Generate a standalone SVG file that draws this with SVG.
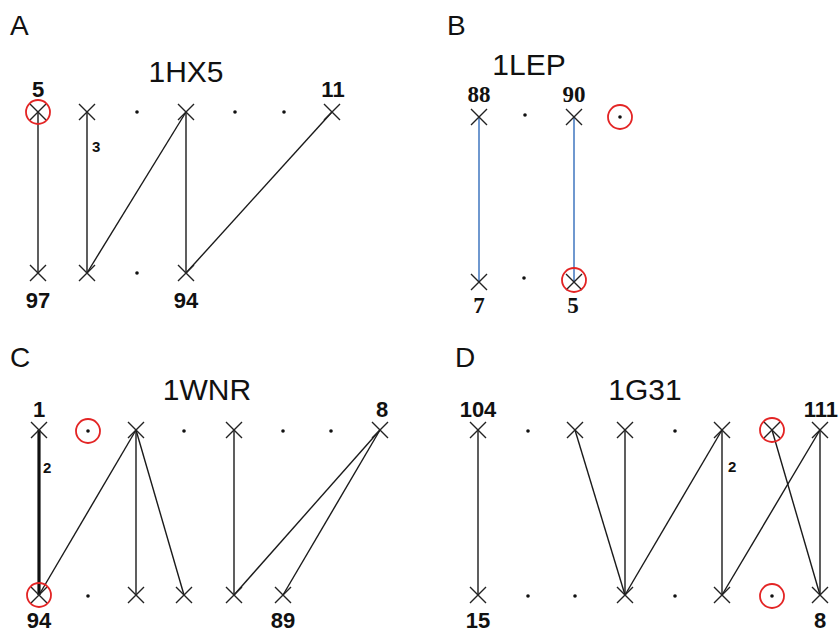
<svg xmlns="http://www.w3.org/2000/svg" xmlns:xlink="http://www.w3.org/1999/xlink" width="840" height="634" viewBox="0 0 840 634">
<style>
.bg{fill:#fff}
.panel{font-family:"Liberation Sans",Arial,sans-serif;font-size:28px;fill:#111}
.title{font-family:"Liberation Sans",Arial,sans-serif;font-size:30px;fill:#111;text-anchor:middle}
.num{font-family:"Liberation Sans",Arial,sans-serif;font-size:22px;font-weight:bold;fill:#111;text-anchor:middle}
.snum{font-family:"Liberation Serif","Times New Roman",serif;font-size:23px;font-weight:bold;fill:#111;text-anchor:middle}
.small{font-family:"Liberation Sans",Arial,sans-serif;font-size:15px;font-weight:bold;fill:#111}
.xm{stroke:#222;stroke-width:1.4;fill:none}
.dot{fill:#111}
.ring{fill:none;stroke:#e32424;stroke-width:1.8}
.ln{stroke:#1a1a1a;stroke-width:1.4;fill:none}
.thick{stroke:#111;stroke-width:3.2;fill:none}
.blue{stroke:#6f98cf;stroke-width:2;fill:none}
</style>
<defs>
<path id="x" class="xm" d="M-8,-8L8,8M8,-8L-8,8"/>
<circle id="d" class="dot" r="1.8"/>
<circle id="r" class="ring" r="12"/>
</defs>
<rect class="bg" width="840" height="634"/>

<!-- Panel A -->
<text class="panel" x="10" y="35">A</text>
<text class="title" x="186" y="82">1HX5</text>
<g id="connectors-A">
<line class="ln" x1="38" y1="112" x2="38" y2="273"/>
<line class="ln" x1="87" y1="112" x2="87" y2="273"/>
<line class="ln" x1="87" y1="273" x2="186" y2="112"/>
<line class="ln" x1="186" y1="112" x2="186" y2="273"/>
<line class="ln" x1="186" y1="273" x2="332" y2="112"/>
</g>
<g id="A-t1"><use href="#x" x="38" y="112"/><use href="#r" x="38" y="112"/><text class="num" x="38" y="97">5</text></g>
<g id="A-t2"><use href="#x" x="87" y="112"/></g>
<g id="A-t3"><use href="#d" x="137" y="112"/></g>
<g id="A-t4"><use href="#x" x="186" y="112"/></g>
<g id="A-t5"><use href="#d" x="235" y="112"/></g>
<g id="A-t6"><use href="#d" x="284" y="112"/></g>
<g id="A-t7"><use href="#x" x="332" y="112"/><text class="num" x="333" y="97">11</text></g>
<g id="A-b1"><use href="#x" x="38" y="273"/><text class="num" x="38" y="308">97</text></g>
<g id="A-b2"><use href="#x" x="87" y="273"/></g>
<g id="A-b3"><use href="#d" x="137" y="273"/></g>
<g id="A-b4"><use href="#x" x="186" y="273"/><text class="num" x="186" y="308">94</text></g>
<text class="small" x="92" y="152">3</text>

<!-- Panel B -->
<text class="panel" x="447" y="35">B</text>
<text class="title" x="529" y="75">1LEP</text>
<g id="connectors-B">
<line class="blue" x1="479" y1="117" x2="479" y2="282"/>
<line class="blue" x1="574" y1="117" x2="574" y2="282"/>
</g>
<g id="B-t1"><use href="#x" x="479" y="117"/><text class="snum" x="479" y="102">88</text></g>
<g id="B-t2"><use href="#d" x="525" y="115"/></g>
<g id="B-t3"><use href="#x" x="574" y="117"/><text class="snum" x="574" y="102">90</text></g>
<g id="B-t4"><use href="#d" x="620" y="117"/><use href="#r" x="620" y="117"/></g>
<g id="B-b1"><use href="#x" x="479" y="282"/><text class="snum" x="479" y="313">7</text></g>
<g id="B-b2"><use href="#d" x="524" y="278"/></g>
<g id="B-b3"><use href="#x" x="574" y="282"/><use href="#r" x="574" y="280"/><text class="snum" x="573" y="313">5</text></g>

<!-- Panel C -->
<text class="panel" x="10" y="367">C</text>
<text class="title" x="207" y="400">1WNR</text>
<g id="connectors-C">
<line class="thick" x1="39" y1="430" x2="39" y2="595"/>
<line class="ln" x1="39" y1="595" x2="136" y2="430"/>
<line class="ln" x1="136" y1="430" x2="136" y2="595"/>
<line class="ln" x1="136" y1="430" x2="184" y2="595"/>
<line class="ln" x1="234" y1="430" x2="234" y2="595"/>
<line class="ln" x1="234" y1="595" x2="380" y2="430"/>
<line class="ln" x1="283" y1="595" x2="380" y2="430"/>
</g>
<g id="C-t1"><use href="#x" x="39" y="430"/><text class="num" x="39" y="417">1</text></g>
<g id="C-t2"><use href="#d" x="88" y="431"/><use href="#r" x="88" y="431"/></g>
<g id="C-t3"><use href="#x" x="136" y="430"/></g>
<g id="C-t4"><use href="#d" x="184" y="431"/></g>
<g id="C-t5"><use href="#x" x="234" y="430"/></g>
<g id="C-t6"><use href="#d" x="283" y="431"/></g>
<g id="C-t7"><use href="#d" x="331" y="431"/></g>
<g id="C-t8"><use href="#x" x="380" y="430"/><text class="num" x="382" y="417">8</text></g>
<g id="C-b1"><use href="#x" x="39" y="595"/><use href="#r" x="39" y="595"/><text class="num" x="39" y="628">94</text></g>
<g id="C-b2"><use href="#d" x="88" y="596"/></g>
<g id="C-b3"><use href="#x" x="136" y="595"/></g>
<g id="C-b4"><use href="#x" x="184" y="595"/></g>
<g id="C-b5"><use href="#x" x="234" y="595"/></g>
<g id="C-b6"><use href="#x" x="283" y="595"/><text class="num" x="283" y="628">89</text></g>
<text class="small" x="43" y="473">2</text>

<!-- Panel D -->
<text class="panel" x="455" y="367">D</text>
<text class="title" x="645" y="400">1G31</text>
<g id="connectors-D">
<line class="ln" x1="478" y1="430" x2="478" y2="595"/>
<line class="ln" x1="575" y1="430" x2="625" y2="595"/>
<line class="ln" x1="625" y1="430" x2="625" y2="595"/>
<line class="ln" x1="625" y1="595" x2="722" y2="430"/>
<line class="ln" x1="722" y1="430" x2="722" y2="595"/>
<line class="ln" x1="722" y1="595" x2="820" y2="430"/>
<line class="ln" x1="772" y1="430" x2="820" y2="595"/>
<line class="ln" x1="820" y1="430" x2="820" y2="595"/>
</g>
<g id="D-t1"><use href="#x" x="478" y="430"/><text class="num" x="478" y="417">104</text></g>
<g id="D-t2"><use href="#d" x="528" y="431"/></g>
<g id="D-t3"><use href="#x" x="575" y="430"/></g>
<g id="D-t4"><use href="#x" x="625" y="430"/></g>
<g id="D-t5"><use href="#d" x="675" y="431"/></g>
<g id="D-t6"><use href="#x" x="722" y="430"/></g>
<g id="D-t7"><use href="#x" x="772" y="430"/><use href="#r" x="772" y="430"/></g>
<g id="D-t8"><use href="#x" x="820" y="430"/><text class="num" x="838" y="417" style="text-anchor:end">111</text></g>
<g id="D-b1"><use href="#x" x="478" y="595"/><text class="num" x="478" y="628">15</text></g>
<g id="D-b2"><use href="#d" x="528" y="596"/></g>
<g id="D-b3"><use href="#d" x="575" y="596"/></g>
<g id="D-b4"><use href="#x" x="625" y="595"/></g>
<g id="D-b5"><use href="#d" x="675" y="596"/></g>
<g id="D-b6"><use href="#x" x="722" y="595"/></g>
<g id="D-b7"><use href="#d" x="772" y="596"/><use href="#r" x="772" y="596"/></g>
<g id="D-b8"><use href="#x" x="820" y="595"/><text class="num" x="820" y="628">8</text></g>
<text class="small" x="728" y="472">2</text>
</svg>
